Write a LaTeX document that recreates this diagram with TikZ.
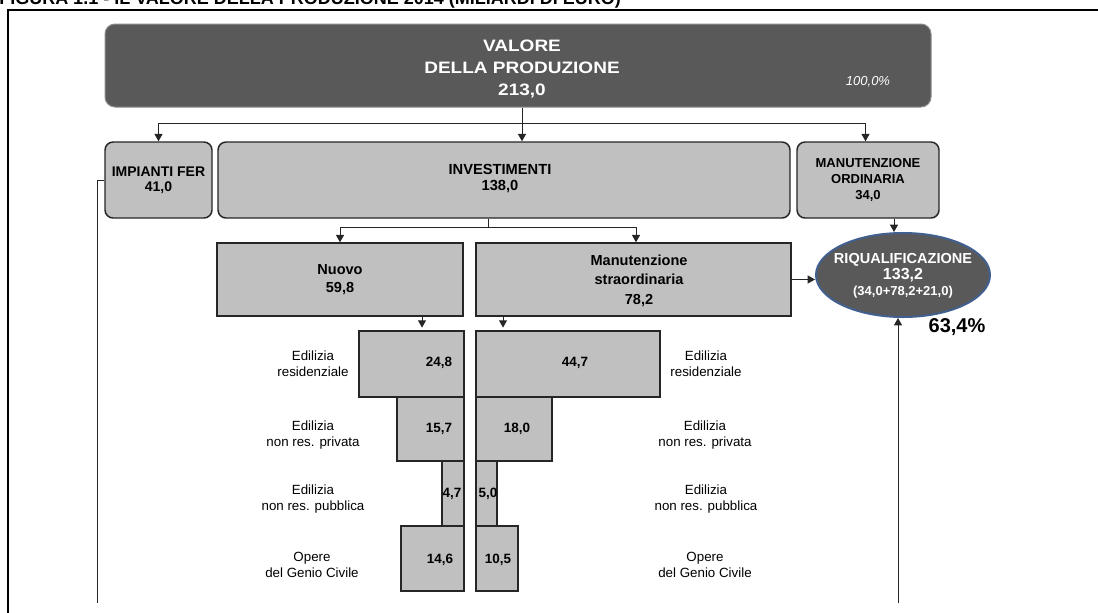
\documentclass[tikz,border=0pt]{standalone}
\usepackage{fontspec}
\setmainfont{Liberation Sans}
\newfontfamily\widefont[FakeStretch=1.15]{Liberation Sans}
\usetikzlibrary{arrows.meta,shapes.geometric}
\definecolor{boxgray}{HTML}{C0C0C0}
\definecolor{darkfill}{HTML}{595959}
\definecolor{ellborder}{HTML}{41608F}
\definecolor{linecol}{HTML}{262626}
\begin{document}
\begin{tikzpicture}[x=0.75pt,y=-0.75pt,
  conn/.style={line width=0.75pt,draw=linecol},
  arr/.style={conn,-{Triangle[width=6pt,length=5.5pt]}},
  gbox/.style={draw=linecol,line width=1.1pt,fill=boxgray,rounded corners=6pt,inner sep=0pt,align=center},
  sbox/.style={draw=linecol,line width=1.1pt,fill=boxgray,inner sep=0pt,align=center},
  bar/.style={draw=linecol,line width=1.1pt,fill=boxgray,inner sep=0pt},
  val/.style={font=\bfseries\fontsize{10.1}{12}\selectfont,inner sep=0pt},
  cat/.style={font=\fontsize{10}{12}\selectfont,align=center,inner sep=0pt},
  frameline/.style={line width=1.5pt,draw=black}]
\useasboundingbox (0,0) rectangle (1098,612);
\fill[white] (0,0) rectangle (1098,612);
% title (cut off at the top, as in the reference)
\node[anchor=base west,inner sep=0pt,font=\bfseries\fontsize{13.5}{15}\selectfont] (title) at (-1,4.5) {FIGURA 1.1 - IL VALORE DELLA PRODUZIONE 2014 (MILIARDI DI EURO)};
% frame
\draw[frameline] (7.5,620) -- (7.5,9.5) -- (1100,9.5);
% top box
\node[draw=black!45,line width=0.75pt,fill=darkfill,rounded corners=7.5pt,minimum width=619.5pt,minimum height=62.25pt,inner sep=0pt] (top) at (518,65.5) {};
\node[text=white,align=center,inner sep=0pt,font=\widefont\bfseries\fontsize{12.4}{16.5}\selectfont] (toptxt) at (522,69) {VALORE\\DELLA PRODUZIONE\\213,0};
\node[text=white,inner sep=0pt,font=\itshape\fontsize{9.75}{12}\selectfont] (pct) at (868,82) {100,0\%};
% second level
\node[gbox,minimum width=80.25pt,minimum height=57pt,font=\bfseries\fontsize{10.5}{11.25}\selectfont] (imp) at (158.5,180) {IMPIANTI FER\\41,0};
\node[gbox,minimum width=429pt,minimum height=57pt] (inv) at (504,180) {};
\node[align=center,inner sep=0pt,font=\bfseries\fontsize{11}{12.5}\selectfont] (invtxt) at (500,178.5) {INVESTIMENTI\\138,0};
\node[gbox,minimum width=106.5pt,minimum height=57pt,font=\bfseries\fontsize{9.75}{12}\selectfont] (man) at (868,180) {MANUTENZIONE\\ORDINARIA\\34,0};
% third level
\node[sbox,minimum width=184.5pt,minimum height=54.75pt,font=\bfseries\fontsize{10.9}{13.5}\selectfont] (nuovo) at (340,279.5) {Nuovo\\59,8};
\node[sbox,minimum width=236.25pt,minimum height=54.75pt] (mstr) at (633.5,279.5) {};
\node[align=center,inner sep=0pt,font=\bfseries\fontsize{10.9}{14.6}\selectfont] (mstrtxt) at (639,280.5) {Manutenzione\\straordinaria\\78,2};
% ellipse
\node[ellipse,draw=ellborder,line width=1.5pt,fill=darkfill,minimum width=130.5pt,minimum height=63pt,inner sep=0pt] (riq) at (903,275) {};
\node[text=white,align=center,inner sep=0pt] (riqtxt) at (903,276) {\fontsize{10.9}{13}\selectfont\bfseries RIQUALIFICAZIONE\\\fontsize{12}{13}\selectfont\bfseries 133,2\\\fontsize{9.75}{13}\selectfont\bfseries (34,0+78,2+21,0)};
\node[inner sep=0pt,font=\bfseries\fontsize{15}{18}\selectfont] (p634) at (957,327) {63,4\%};
% bars
\node[bar,minimum width=78.75pt,minimum height=49.5pt] (L1) at (411.5,364) {};
\node[bar,minimum width=138pt,minimum height=49.5pt] (R1) at (568,364) {};
\node[bar,minimum width=50.25pt,minimum height=48pt] (L2) at (430.5,429) {};
\node[bar,minimum width=57pt,minimum height=48pt] (R2) at (514,429) {};
\node[bar,minimum width=16.5pt,minimum height=48.75pt] (L3) at (453,493.5) {};
\node[bar,minimum width=15.75pt,minimum height=48.75pt] (R3) at (486.5,493.5) {};
\node[bar,minimum width=47.25pt,minimum height=48.75pt] (L4) at (432.5,558.5) {};
\node[bar,minimum width=31.5pt,minimum height=48.75pt] (R4) at (497,558.5) {};
% values
\node[val] (v1) at (439,363) {24,8};
\node[val] (v2) at (575,363) {44,7};
\node[val] (v3) at (439,429) {15,7};
\node[val] (v4) at (517,429) {18,0};
\node[val] (v5) at (452,494) {4,7};
\node[val] (v6) at (488,494) {5,0};
\node[val] (v7) at (440,560) {14,6};
\node[val] (v8) at (498,560) {10,5};
% category labels
\node[cat] (c1l) at (313,364) {Edilizia\\residenziale};
\node[cat] (c2l) at (313,435) {Edilizia\\non res. privata};
\node[cat] (c3l) at (313,499.5) {Edilizia\\non res. pubblica};
\node[cat] (c4l) at (312,565) {Opere\\del Genio Civile};
\node[cat] (c1r) at (706,364) {Edilizia\\residenziale};
\node[cat] (c2r) at (705,435) {Edilizia\\non res. privata};
\node[cat] (c3r) at (706,499.5) {Edilizia\\non res. pubblica};
\node[cat] (c4r) at (705,565) {Opere\\del Genio Civile};
% connectors
\coordinate (j1) at (522,123.5);
\draw[conn] (top.south -| j1) -- (j1);
\draw[arr] (j1) -| (imp.north);
\draw[arr] (j1) -- (j1 |- inv.north);
\coordinate (xm1) at (865.5,0);
\draw[arr] (j1) -| (xm1 |- man.north);
\coordinate (j2) at (488,227);
\draw[conn] (inv.south -| j2) -- (j2);
\draw[arr] (j2) -| (nuovo.north);
\coordinate (xm2) at (636,0);
\draw[arr] (j2) -| (xm2 |- mstr.north);
\coordinate (a1) at (422,0);
\coordinate (a2) at (503,0);
\draw[arr,shorten >=2pt] (a1 |- nuovo.south) -- (a1 |- L1.north);
\draw[arr,shorten >=2pt] (a2 |- mstr.south) -- (a2 |- R1.north);
\draw[arr] (mstr.east) -- (mstr.east -| riq.west);
\coordinate (xm3) at (894,0);
\draw[arr] (xm3 |- man.south) -- (xm3 |- riq.north);
\coordinate (b2) at (898,603);
\draw[arr] (b2) -- (b2 |- riq.south);
\coordinate (b1) at (97,603);
\draw[conn] (imp.west) -| (b1);
\end{tikzpicture}
\end{document}
